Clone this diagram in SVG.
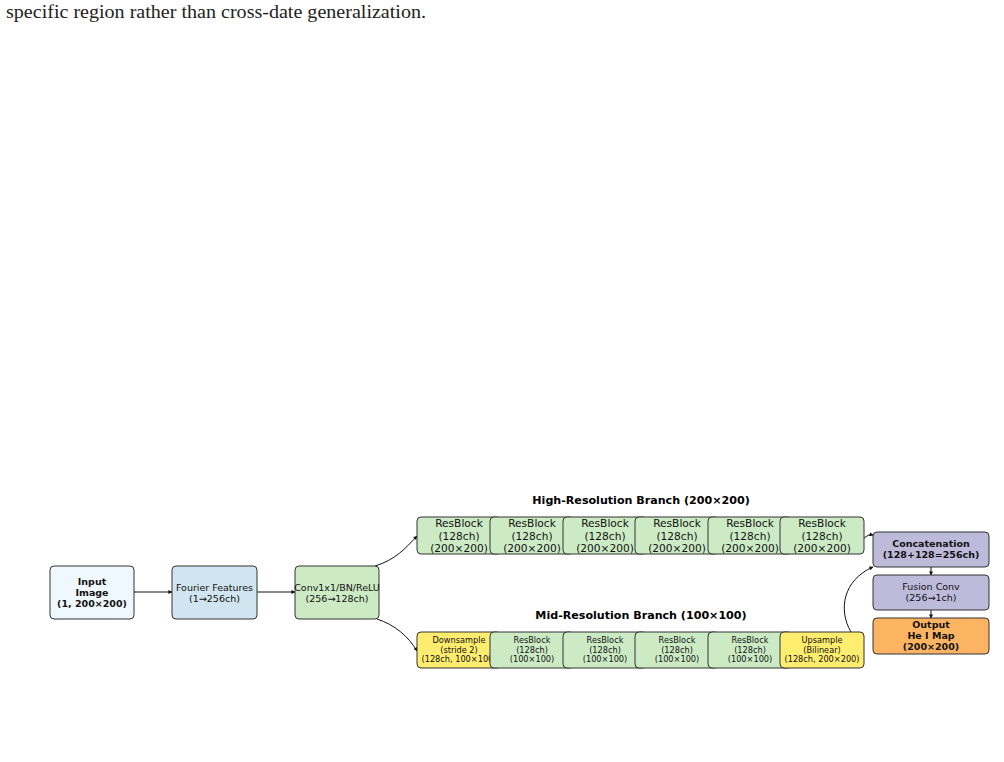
<svg xmlns="http://www.w3.org/2000/svg" width="1004" height="762" viewBox="0 0 1004 762">
  <style>
    .box { stroke: #333; stroke-width: 1; }
    .t { font-family: "DejaVu Sans", sans-serif; fill: #111; text-anchor: middle; }
    .b { font-weight: bold; }
    .big { font-size: 10.6px; }
    .mid { font-size: 9.5px; }
    .sm { font-size: 8.2px; }
    .title { font-family: "DejaVu Sans", sans-serif; font-weight: bold; font-size: 11.1px; text-anchor: middle; fill: #000; }
    .edge { fill: none; stroke: #111; stroke-width: 1; marker-end: url(#arrow); }
    .c-input { fill: #f0f8ff; }
    .c-fourier { fill: #d1e5f0; }
    .c-green { fill: #ccebc5; }
    .c-yellow { fill: #ffed6f; }
    .c-purple { fill: #bebada; }
    .c-orange { fill: #fdb462; }
  </style>
  <defs>
    <marker id="arrow" viewBox="0 0 10 10" refX="9" refY="5" markerWidth="4" markerHeight="4" orient="auto" markerUnits="userSpaceOnUse">
      <path d="M0,0 L10,5 L0,10 z" fill="#111"/>
    </marker>
  </defs>
  <rect width="1004" height="762" fill="#fff"/>

  <text x="6" y="18" font-family="Liberation Serif, serif" font-size="18" fill="#222" textLength="420" lengthAdjust="spacingAndGlyphs">specific region rather than cross-date generalization.</text>

  <!-- branch titles -->
  <text class="title" x="641" y="504">High-Resolution Branch (200×200)</text>
  <text class="title" x="641" y="619">Mid-Resolution Branch (100×100)</text>

  <!-- connectors -->
  <g id="connectors">
    <path class="edge" d="M134 592 L172 592"/>
    <path class="edge" d="M257 592 L295 592"/>
    <path class="edge" d="M375 566 C395 560 406 548 417 536"/>
    <path class="edge" d="M377 619 C395 625 408 636 417 651"/>
    <path class="edge" d="M864 538 Q868 534 873 535"/>
    <path class="edge" d="M851 632 C838 610 843 580 873 567"/>
    <path class="edge" d="M931 567 L931 575"/>
    <path class="edge" d="M931 610 L931 618"/>
  </g>

  <!-- stem -->
  <g id="input">
    <rect class="box c-input" x="50" y="566" width="84" height="53" rx="4"/>
    <text class="t b mid" x="92" y="585">Input</text>
    <text class="t b mid" x="92" y="596">Image</text>
    <text class="t b mid" x="92" y="607">(1, 200×200)</text>
  </g>
  <g id="fourier">
    <rect class="box c-fourier" x="172" y="566" width="85" height="53" rx="4"/>
    <text class="t mid" x="214.5" y="590.5">Fourier Features</text>
    <text class="t mid" x="214.5" y="601.5">(1→256ch)</text>
  </g>
  <g id="conv1x1">
    <rect class="box c-green" x="295" y="566" width="84" height="53" rx="4"/>
    <text class="t mid" x="337" y="590.5">Conv1x1/BN/ReLU</text>
    <text class="t mid" x="337" y="601.5">(256→128ch)</text>
  </g>

  <!-- high-resolution branch -->
  <g id="hr1">
    <rect class="box c-green" x="417" y="517" width="84" height="37" rx="4"/>
    <text class="t big" x="459" y="527">ResBlock</text>
    <text class="t big" x="459" y="539.5">(128ch)</text>
    <text class="t big" x="459" y="552">(200×200)</text>
  </g>
  <g id="hr2">
    <rect class="box c-green" x="490" y="517" width="84" height="37" rx="4"/>
    <text class="t big" x="532" y="527">ResBlock</text>
    <text class="t big" x="532" y="539.5">(128ch)</text>
    <text class="t big" x="532" y="552">(200×200)</text>
  </g>
  <g id="hr3">
    <rect class="box c-green" x="563" y="517" width="84" height="37" rx="4"/>
    <text class="t big" x="605" y="527">ResBlock</text>
    <text class="t big" x="605" y="539.5">(128ch)</text>
    <text class="t big" x="605" y="552">(200×200)</text>
  </g>
  <g id="hr4">
    <rect class="box c-green" x="635" y="517" width="84" height="37" rx="4"/>
    <text class="t big" x="677" y="527">ResBlock</text>
    <text class="t big" x="677" y="539.5">(128ch)</text>
    <text class="t big" x="677" y="552">(200×200)</text>
  </g>
  <g id="hr5">
    <rect class="box c-green" x="708" y="517" width="84" height="37" rx="4"/>
    <text class="t big" x="750" y="527">ResBlock</text>
    <text class="t big" x="750" y="539.5">(128ch)</text>
    <text class="t big" x="750" y="552">(200×200)</text>
  </g>
  <g id="hr6">
    <rect class="box c-green" x="780" y="517" width="84" height="37" rx="4"/>
    <text class="t big" x="822" y="527">ResBlock</text>
    <text class="t big" x="822" y="539.5">(128ch)</text>
    <text class="t big" x="822" y="552">(200×200)</text>
  </g>

  <!-- mid-resolution branch -->
  <g id="downsample">
    <rect class="box c-yellow" x="417" y="632" width="84" height="36" rx="4"/>
    <text class="t sm" x="459" y="643">Downsample</text>
    <text class="t sm" x="459" y="652.5">(stride 2)</text>
    <text class="t sm" x="459" y="662">(128ch, 100×100)</text>
  </g>
  <g id="mr1">
    <rect class="box c-green" x="490" y="632" width="84" height="36" rx="4"/>
    <text class="t sm" x="532" y="643">ResBlock</text>
    <text class="t sm" x="532" y="652.5">(128ch)</text>
    <text class="t sm" x="532" y="662">(100×100)</text>
  </g>
  <g id="mr2">
    <rect class="box c-green" x="563" y="632" width="84" height="36" rx="4"/>
    <text class="t sm" x="605" y="643">ResBlock</text>
    <text class="t sm" x="605" y="652.5">(128ch)</text>
    <text class="t sm" x="605" y="662">(100×100)</text>
  </g>
  <g id="mr3">
    <rect class="box c-green" x="635" y="632" width="84" height="36" rx="4"/>
    <text class="t sm" x="677" y="643">ResBlock</text>
    <text class="t sm" x="677" y="652.5">(128ch)</text>
    <text class="t sm" x="677" y="662">(100×100)</text>
  </g>
  <g id="mr4">
    <rect class="box c-green" x="708" y="632" width="84" height="36" rx="4"/>
    <text class="t sm" x="750" y="643">ResBlock</text>
    <text class="t sm" x="750" y="652.5">(128ch)</text>
    <text class="t sm" x="750" y="662">(100×100)</text>
  </g>
  <g id="upsample">
    <rect class="box c-yellow" x="780" y="632" width="84" height="36" rx="4"/>
    <text class="t sm" x="822" y="643">Upsample</text>
    <text class="t sm" x="822" y="652.5">(Bilinear)</text>
    <text class="t sm" x="822" y="662">(128ch, 200×200)</text>
  </g>

  <!-- fusion head -->
  <g id="concat">
    <rect class="box c-purple" x="873" y="532" width="116" height="35" rx="4"/>
    <text class="t b mid" x="931" y="547">Concatenation</text>
    <text class="t b mid" x="931" y="558">(128+128=256ch)</text>
  </g>
  <g id="fusion">
    <rect class="box c-purple" x="873" y="575" width="116" height="35" rx="4"/>
    <text class="t mid" x="931" y="590">Fusion Conv</text>
    <text class="t mid" x="931" y="601">(256→1ch)</text>
  </g>
  <g id="output">
    <rect class="box c-orange" x="873" y="618" width="116" height="36" rx="4"/>
    <text class="t b mid" x="931" y="628">Output</text>
    <text class="t b mid" x="931" y="639">He I Map</text>
    <text class="t b mid" x="931" y="650">(200×200)</text>
  </g>
</svg>
